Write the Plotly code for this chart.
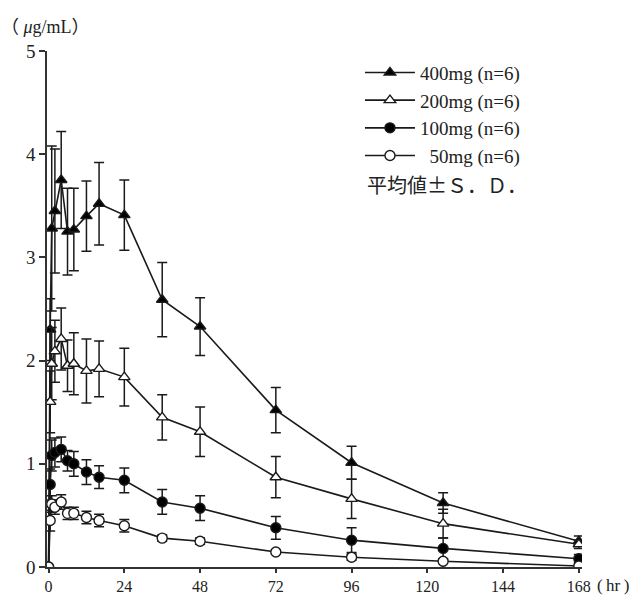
import plotly.graph_objects as go

# Sampling times (hr)
times = [0, 0.5, 1, 2, 4, 6, 8, 12, 16, 24, 36, 48, 72, 96, 125, 168]

# Mean plasma concentrations (ug/mL)
mean_400 = [0, 2.30, 3.28, 3.45, 3.75, 3.25, 3.27, 3.40, 3.52, 3.41, 2.59, 2.33, 1.52, 1.01, 0.62, 0.25]
mean_200 = [0, 1.60, 1.97, 2.09, 2.21, 1.95, 1.97, 1.90, 1.92, 1.84, 1.45, 1.31, 0.87, 0.66, 0.42, 0.22]
mean_100 = [0, 0.80, 1.08, 1.11, 1.14, 1.03, 1.00, 0.92, 0.87, 0.84, 0.63, 0.57, 0.38, 0.26, 0.18, 0.08]
mean_50 = [0, 0.45, 0.61, 0.58, 0.63, 0.52, 0.52, 0.48, 0.45, 0.40, 0.28, 0.25, 0.145, 0.095, 0.055, 0.01]

# Standard deviations
sd_400 = [0, 0.30, 0.80, 0.60, 0.47, 0.42, 0.40, 0.34, 0.40, 0.34, 0.36, 0.28, 0.22, 0.16, 0.10, 0.05]
sd_200 = [0, 0.30, 0.35, 0.30, 0.30, 0.25, 0.30, 0.31, 0.27, 0.28, 0.22, 0.24, 0.20, 0.19, 0.14, 0.04]
sd_100 = [0, 0.15, 0.15, 0.14, 0.12, 0.10, 0.12, 0.12, 0.11, 0.12, 0.12, 0.12, 0.11, 0.12, 0.10, 0.04]
sd_50 = [0, 0.10, 0.08, 0.07, 0.07, 0.06, 0.06, 0.06, 0.06, 0.06, 0.03, 0.03, 0.02, 0.03, 0.02, 0.01]

labels = ["400mg (n=6)", "200mg (n=6)", "100mg (n=6)", "&nbsp;&nbsp;50mg (n=6)"]
symbols = ["triangle-up", "triangle-up", "circle", "circle"]
fills = ["black", "white", "black", "white"]
sizes = [10, 10, 10, 10]

x_ticks = [0, 24, 48, 72, 96, 120, 144, 168]
y_ticks = [0, 1, 2, 3, 4, 5]

SERIF = "Liberation Serif, Times New Roman, serif"

fig = go.Figure()
for lab, m, s, sym, fc, sz in zip(labels, [mean_400, mean_200, mean_100, mean_50],
                                  [sd_400, sd_200, sd_100, sd_50], symbols, fills, sizes):
    fig.add_trace(go.Scatter(
        x=times, y=m, name=lab, mode="lines+markers",
        line=dict(color="#1a1a1a", width=1.6),
        marker=dict(symbol=sym, size=sz, color=fc, line=dict(color="#1a1a1a", width=1.4)),
        error_y=dict(type="data", array=s, visible=True, color="#1a1a1a", thickness=1.5, width=5),
    ))

fig.update_layout(
    width=639, height=597,
    margin=dict(l=47, r=57, t=51, b=30, autoexpand=False),
    paper_bgcolor="white", plot_bgcolor="white",
    font=dict(family=SERIF, size=17, color="#222"),
    showlegend=True,
    legend=dict(x=0.585, y=0.995, xanchor="left", yanchor="top",
                font=dict(family=SERIF, size=19, color="#222"),
                bgcolor="rgba(0,0,0,0)", itemwidth=50),
    xaxis=dict(range=[-0.5, 169], tickmode="array", tickvals=x_ticks,
               ticktext=[str(v) for v in x_ticks], automargin=False,
               showgrid=False, zeroline=False, showline=True, linecolor="#333", linewidth=1.5,
               ticks="outside", ticklen=4, tickwidth=1.5, tickcolor="#333",
               tickfont=dict(family=SERIF, size=16, color="#222")),
    yaxis=dict(range=[0, 5], tickmode="array", tickvals=y_ticks,
               ticktext=[str(v) for v in y_ticks], automargin=False,
               showgrid=False, zeroline=False, showline=True, linecolor="#333", linewidth=1.5,
               ticks="outside", ticklen=6, tickwidth=1.5, tickcolor="#333",
               tickfont=dict(family=SERIF, size=19, color="#222")),
    annotations=[
        dict(text="（ <i>μ</i>g/mL）", xref="paper", yref="paper", x=-0.09, y=1.046,
             xanchor="left", yanchor="middle", showarrow=False,
             font=dict(family=SERIF + ", Noto Sans CJK JP", size=18, color="#222")),
        dict(text="(\u2009hr\u2009)", xref="paper", yref="paper", x=1.025, y=-0.036,
             xanchor="left", yanchor="middle", showarrow=False,
             font=dict(family=SERIF, size=17, color="#222")),
        dict(text="平均値±Ｓ．Ｄ．", xref="paper", yref="paper", x=0.594, y=0.742,
             xanchor="left", yanchor="middle", showarrow=False,
             font=dict(family="Noto Sans CJK JP", size=20, color="#222")),
    ],
)

fig.write_html("out.html")
